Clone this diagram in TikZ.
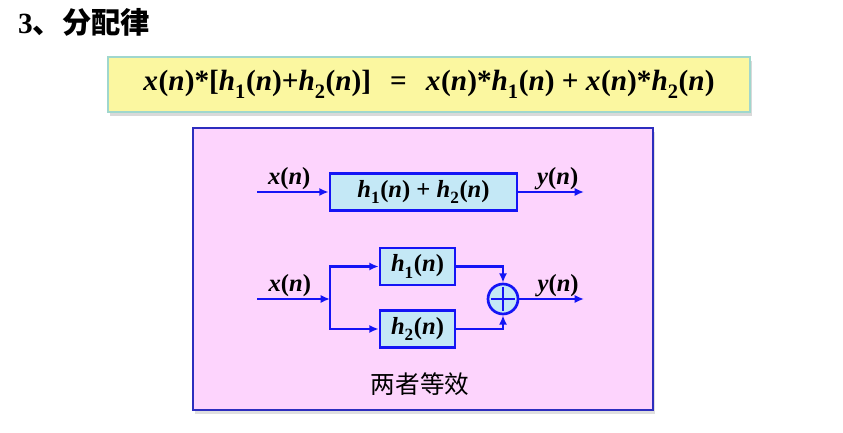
\documentclass[tikz,border=0pt]{standalone}
\usepackage{fontspec}
\setmainfont{Liberation Serif}
\newfontfamily\cjk{Noto Sans CJK SC}
\usepackage{tikz}
\usetikzlibrary{arrows.meta,shadows}

\definecolor{lineblue}{RGB}{20,20,245}
\definecolor{frameblue}{RGB}{45,45,190}
\definecolor{panelpink}{RGB}{253,212,253}
\definecolor{boxblue}{RGB}{196,232,246}
\definecolor{eqyellow}{RGB}{251,247,160}
\definecolor{eqframe}{RGB}{160,215,205}

\newcommand{\sg}[2]{\textit{#1}\raisebox{-0.25ex}{\textsubscript{#2}}(\textit{n})}

\begin{document}
\begin{tikzpicture}[x=0.03cm,y=-0.03cm,
lbl/.style={font=\fontsize{21}{24}\selectfont\bfseries,inner sep=1pt},
sysbox/.style={draw=lineblue,fill=boxblue,line width=2.3pt,minimum height=1.11cm,font=\fontsize{21}{24}\selectfont\bfseries,inner sep=0pt},
arrow/.style={-{Latex[length=8pt,width=7pt]},draw=lineblue,line width=2.3pt},
link/.style={draw=lineblue,line width=2.3pt} ]

\useasboundingbox (0,0) rectangle (843,433);

% heading and formula
\node[anchor=west,inner sep=0pt] (title) at (18,22) {\fontsize{25}{30}\selectfont\bfseries 3{\cjk 、分配律}};

\node[draw=eqframe,fill=eqyellow,line width=1.2pt,minimum width=19.26cm,minimum height=1.65cm,
      drop shadow={shadow xshift=2pt,shadow yshift=-3pt,opacity=0.3},
      font=\fontsize{25}{30}\selectfont\bfseries] (eq) at (429,84.5)
  {\sg{x}{}*[\sg{h}{1}+\sg{h}{2}]\hspace{0.65em}=\hspace{0.65em}\sg{x}{}*\sg{h}{1} + \sg{x}{}*\sg{h}{2}};

% panel
\node[draw=frameblue,fill=panelpink,line width=2.4pt,minimum width=13.8cm,minimum height=8.46cm,
      drop shadow={shadow xshift=2pt,shadow yshift=-3pt,opacity=0.25}] (panel) at (423,269) {};

% single system
\coordinate (in1) at (257,192);
\coordinate (out1) at (584,192);
\node[sysbox,minimum width=5.61cm] (hsum) at (423.5,192) {\sg{h}{1} + \sg{h}{2}};

\draw[arrow] (in1) -- node[above,lbl,pos=0.45] {\textit{x}(\textit{n})} (hsum);
\draw[arrow] (hsum) -- node[above,lbl,pos=0.6] {\textit{y}(\textit{n})} (out1);

% parallel systems
\coordinate (in2) at (257,299);
\coordinate (split) at (330,299);
\coordinate (out2) at (584,299);
\node[sysbox,minimum width=2.25cm] (h1) at (417.5,266.5) {\sg{h}{1}};
\node[sysbox,minimum width=2.25cm] (h2) at (417.5,329) {\sg{h}{2}};
\node[circle,draw=lineblue,fill=boxblue,line width=2.3pt,minimum size=0.9cm,inner sep=0pt,
      path picture={\draw[lineblue,line width=2.3pt]
        ([yshift=-2.5pt]path picture bounding box.north) -- ([yshift=2.5pt]path picture bounding box.south)
        ([xshift=2.5pt]path picture bounding box.west) -- ([xshift=-2.5pt]path picture bounding box.east);}] (sum) at (503,299) {};

\draw[arrow] (in2) -- node[above,lbl,pos=0.45] {\textit{x}(\textit{n})} (split);
\draw[arrow] (split) |- (h1);
\draw[arrow] (split) |- (h2);
\draw[arrow] (h1) -| (sum);
\draw[arrow] (h2) -| (sum);
\draw[arrow] (sum) -- node[above,lbl,pos=0.6] {\textit{y}(\textit{n})} (out2);

\node[font=\fontsize{21}{25}\selectfont\cjk] (note) at (420,384) {两者等效};

\end{tikzpicture}
\end{document}
